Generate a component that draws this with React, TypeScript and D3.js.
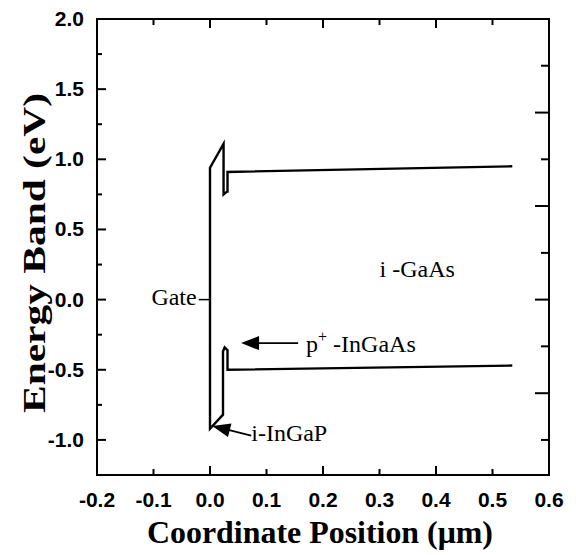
import React from "react";
import * as d3 from "d3";

// conduction band edge (um, eV)
const ecX = [0, 0.024, 0.024, 0.03, 0.031, 0.031, 0.535];
const ecY = [0.94, 1.11, 0.75, 0.77, 0.77, 0.91, 0.95];
// valence band edge
const evX = [0, 0.023, 0.023, 0.026, 0.031, 0.031, 0.535];
const evY = [-0.92, -0.82, -0.37, -0.34, -0.36, -0.5, -0.47];

const xTicks = [-0.2, -0.1, 0.0, 0.1, 0.2, 0.3, 0.4, 0.5, 0.6];
const xMajor = [-0.2, 0.0, 0.2, 0.4, 0.6];
const yTicks = [-1.0, -0.5, 0.0, 0.5, 1.0, 1.5, 2.0];
const yMinor = [-0.75, -0.25, 0.25, 0.75, 1.25, 1.75];
const rightTicks = [-1.0, -0.667, -0.333, 0.0, 0.333, 0.667, 1.0, 1.333, 1.667];
const rightMajor = [-0.667, 0.0, 0.667, 1.333];

const W = 576;
const H = 555;
const margin = { top: 19, right: 27, bottom: 80, left: 97 };

export default function App() {
  const x = d3.scaleLinear().domain([-0.2, 0.6]).range([margin.left, W - margin.right]);
  const y = d3.scaleLinear().domain([-1.25, 2.0]).range([H - margin.bottom, margin.top]);

  const line = d3.line<[number, number]>().x((d) => x(d[0])).y((d) => y(d[1]));

  // one outline: Ec from right to gate, down the gate interface, then Ev to right
  const ec: [number, number][] = ecX.map((v, i) => [v, ecY[i]]);
  const ev: [number, number][] = evX.map((v, i) => [v, evY[i]]);
  const band = [...ec.slice().reverse(), ...ev];

  const x0 = x.range()[0], x1 = x.range()[1];
  const y0 = y.range()[0], y1 = y.range()[1];

  const sans = "'Liberation Sans', Arial, sans-serif";
  const serif = "'Liberation Serif', 'Times New Roman', serif";

  const arrowHead = (tx: number, ty: number, fx: number, fy: number, len = 18, half = 7) => {
    const a = Math.atan2(fy - ty, fx - tx);
    const bx = tx + len * Math.cos(a), by = ty + len * Math.sin(a);
    const px = -Math.sin(a) * half, py = Math.cos(a) * half;
    return `M${tx},${ty}L${bx + px},${by + py}L${bx - px},${by - py}Z`;
  };

  // arrow anchors in data units
  const pArrow = { tip: [0.055, -0.31], tail: [0.156, -0.31] };
  const gArrow = { tip: [0.004, -0.9], tail: [0.073, -0.97] };

  return (
    <svg width={W} height={H} style={{ position: "absolute", left: 0, top: 0, background: "#fff" }}>
      <rect x={0} y={0} width={W} height={H} fill="#fff" />
      {/* frame */}
      <rect x={x0} y={y1} width={x1 - x0} height={y0 - y1} fill="none" stroke="#000" strokeWidth={2} />

      {/* x ticks bottom + top */}
      {xTicks.map((t) => {
        const len = xMajor.includes(t) ? 9 : 6;
        return (
          <g key={"xt" + t}>
            <line x1={x(t)} x2={x(t)} y1={y0} y2={y0 - len} stroke="#000" strokeWidth={2} />
            <line x1={x(t)} x2={x(t)} y1={y1} y2={y1 + len} stroke="#000" strokeWidth={2} />
            <text x={x(t)} y={y0 + 32} textAnchor="middle" fontFamily={sans} fontWeight="bold" fontSize={21}>
              {t.toFixed(1)}
            </text>
          </g>
        );
      })}

      {/* y ticks left */}
      {yTicks.map((t) => (
        <g key={"yt" + t}>
          <line x1={x0} x2={x0 + 9} y1={y(t)} y2={y(t)} stroke="#000" strokeWidth={2} />
          <text x={x0 - 13} y={y(t) + 7} textAnchor="end" fontFamily={sans} fontWeight="bold" fontSize={21}>
            {t.toFixed(1)}
          </text>
        </g>
      ))}
      {yMinor.map((t) => (
        <line key={"ym" + t} x1={x0} x2={x0 + 5} y1={y(t)} y2={y(t)} stroke="#000" strokeWidth={2} />
      ))}

      {/* y ticks right */}
      {rightTicks.map((t) => {
        const len = rightMajor.includes(t) ? 14 : 8;
        return <line key={"rt" + t} x1={x1} x2={x1 - len} y1={y(t)} y2={y(t)} stroke="#000" strokeWidth={2} />;
      })}

      {/* band diagram */}
      <path d={line(band) || ""} fill="none" stroke="#000" strokeWidth={2.4} strokeLinejoin="miter" />
      <line x1={x(-0.02)} x2={x(0)} y1={y(0)} y2={y(0)} stroke="#000" strokeWidth={1.5} />

      {/* annotations */}
      <text x={x(-0.02) - 2} y={y(-0.04)} textAnchor="end" fontFamily={serif} fontSize={24}>Gate</text>
      <text x={x(0.3)} y={y(0.16)} fontFamily={serif} fontSize={24}>i -GaAs</text>
      <text x={x(0.17)} y={y(-0.37)} fontFamily={serif} fontSize={24}>
        p<tspan dy={-10} fontSize={16}>+</tspan><tspan dy={10}> -InGaAs</tspan>
      </text>
      <text x={x(0.073)} y={y(-1.01)} fontFamily={serif} fontSize={24}>i-InGaP</text>

      <line x1={x(pArrow.tail[0])} y1={y(pArrow.tail[1])} x2={x(pArrow.tip[0]) + 10} y2={y(pArrow.tip[1])} stroke="#000" strokeWidth={1.6} />
      <path d={arrowHead(x(pArrow.tip[0]), y(pArrow.tip[1]), x(pArrow.tail[0]), y(pArrow.tail[1]))} fill="#000" />
      <line x1={x(gArrow.tail[0])} y1={y(gArrow.tail[1])} x2={x(gArrow.tip[0]) + 8} y2={y(gArrow.tip[1]) + 2} stroke="#000" strokeWidth={1.8} />
      <path d={arrowHead(x(gArrow.tip[0]), y(gArrow.tip[1]), x(gArrow.tail[0]), y(gArrow.tail[1]))} fill="#000" />

      {/* axis titles */}
      <text
        x={(x0 + x1) / 2 - 3}
        y={y0 + 68}
        textAnchor="middle"
        fontFamily={serif}
        fontWeight="bold"
        fontSize={31}
        textLength={346}
        lengthAdjust="spacingAndGlyphs"
      >
        Coordinate Position (μm)
      </text>
      <text
        transform={`translate(45,${(y0 + y1) / 2 + 6}) rotate(-90)`}
        textAnchor="middle"
        fontFamily={serif}
        fontWeight="bold"
        fontSize={31}
        textLength={320}
        lengthAdjust="spacingAndGlyphs"
      >
        Energy Band (eV)
      </text>
    </svg>
  );
}
